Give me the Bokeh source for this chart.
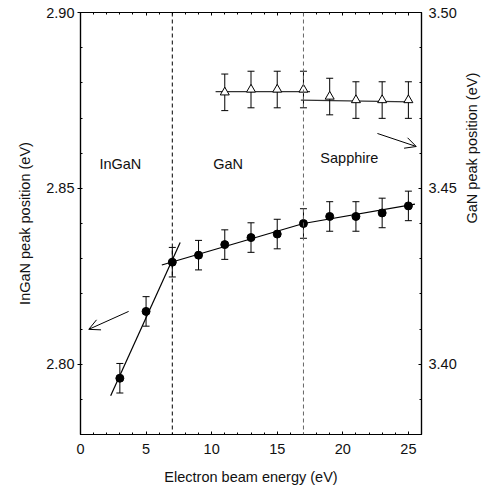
import math
from bokeh.plotting import figure
from bokeh.models import (Range1d, LinearAxis, FixedTicker, Span, Arrow, OpenHead,
                          NumeralTickFormatter, ColumnDataSource)
from bokeh.core.properties import value
from bokeh.embed import file_html
from bokeh.resources import INLINE

# ---- data ----
energy_ingan = [3, 5, 7, 9, 11, 13, 15, 17, 19, 21, 23, 25]
ingan_peak = [2.796, 2.815, 2.829, 2.831, 2.834, 2.836, 2.837, 2.840, 2.842, 2.842, 2.843, 2.845]
ingan_err = [0.0042, 0.0042, 0.0042, 0.0042, 0.0042, 0.0042, 0.0042, 0.0042, 0.0042, 0.0042, 0.0042, 0.0042]

energy_gan = [11, 13, 15, 17, 19, 21, 23, 25]
gan_peak = [3.4773, 3.4781, 3.4781, 3.4781, 3.4761, 3.4751, 3.4751, 3.4751]
gan_err = [0.0052, 0.0052, 0.0052, 0.0052, 0.0052, 0.0052, 0.0052, 0.0052]

# linear fits (segments)
fit1_x = [2.3, 7.6]
fit1_y = [2.791, 2.8346]
fit2_x = [6.2, 17.0]
fit2_y = [2.8282, 2.840]
fit3_x = [17.0, 25.5]
fit3_y = [2.840, 2.8455]
gan_fit1_x = [10.3, 17.5]
gan_fit1_y = [3.4775, 3.4775]
gan_fit2_x = [16.8, 25.2]
gan_fit2_y = [3.4751, 3.4746]

boundaries = [7, 17]
region_names = ["InGaN", "GaN", "Sapphire"]
region_x = [3.04, 11.25, 20.5]
region_y = [2.857, 2.857, 2.8585]

x_ticks = [0, 5, 10, 15, 20, 25]
x_minor = list(range(0, 27))
left_ticks = [2.80, 2.85, 2.90]
left_minor = [2.78, 2.79, 2.80, 2.81, 2.82, 2.83, 2.84, 2.85, 2.86, 2.87, 2.88, 2.89, 2.90]
right_ticks = [3.40, 3.45, 3.50]
right_minor = [3.38, 3.39, 3.40, 3.41, 3.42, 3.43, 3.44, 3.45, 3.46, 3.47, 3.48, 3.49, 3.50]

FONT = "Liberation Sans"
FS = "14.5px"
TXT = "#111111"

p = figure(width=490, height=488, output_backend="svg", toolbar_location=None,
           x_range=Range1d(0, 26), y_range=Range1d(2.78, 2.90),
           min_border_left=80, min_border_right=68, min_border_top=12, min_border_bottom=54,
           x_axis_location=None, y_axis_location=None)
p.extra_y_ranges = {"gan": Range1d(3.38, 3.50)}
p.xgrid.visible = False
p.ygrid.visible = False
p.outline_line_color = "black"
p.outline_line_width = 1.2
p.background_fill_color = "white"
p.border_fill_color = "white"


def style_axis(ax):
    ax.axis_line_color = "black"
    ax.axis_line_width = 1.2
    ax.major_tick_line_color = "black"
    ax.minor_tick_line_color = "black"
    ax.major_label_text_font = FONT
    ax.major_label_text_font_size = FS
    ax.major_label_text_color = TXT
    ax.axis_label_text_font = FONT
    ax.axis_label_text_font_size = FS
    ax.axis_label_text_font_style = "normal"
    ax.axis_label_text_color = TXT


xb = LinearAxis(ticker=FixedTicker(ticks=x_ticks, minor_ticks=x_minor),
                axis_label="Electron beam energy (eV)")
style_axis(xb)
xb.major_tick_in = 3
xb.major_tick_out = 0
xb.minor_tick_in = 2
xb.minor_tick_out = 0
xb.major_label_standoff = 9
xb.axis_label_standoff = 12
p.add_layout(xb, "below")

xt = LinearAxis(ticker=FixedTicker(ticks=x_ticks, minor_ticks=x_minor))
style_axis(xt)
xt.major_tick_in = 3
xt.major_tick_out = 0
xt.minor_tick_in = 2
xt.minor_tick_out = 0
xt.major_label_overrides = {t: "" for t in x_ticks}
xt.major_label_standoff = 0
p.add_layout(xt, "above")

yl = LinearAxis(ticker=FixedTicker(ticks=left_ticks, minor_ticks=left_minor),
                axis_label="InGaN peak position (eV)",
                formatter=NumeralTickFormatter(format="0.00"))
style_axis(yl)
yl.major_tick_in = 0
yl.major_tick_out = 3
yl.minor_tick_in = 2
yl.minor_tick_out = 0
yl.major_label_standoff = 3
yl.axis_label_standoff = 10
p.add_layout(yl, "left")

yr = LinearAxis(y_range_name="gan",
                ticker=FixedTicker(ticks=right_ticks, minor_ticks=right_minor),
                axis_label="GaN peak position (eV)",
                formatter=NumeralTickFormatter(format="0.00"))
style_axis(yr)
yr.major_tick_in = 3
yr.major_tick_out = 0
yr.minor_tick_in = 2
yr.minor_tick_out = 0
yr.major_label_standoff = 7
yr.axis_label_standoff = 12
yr.axis_label_orientation = math.pi / 2
p.add_layout(yr, "right")

# boundaries
p.add_layout(Span(location=boundaries[0], dimension="height", line_color="black",
                  line_dash="4 3", line_width=1))
p.add_layout(Span(location=boundaries[1], dimension="height", line_color="#666666",
                  line_dash="4 3", line_width=1))

# fits
for fx, fy in [(fit1_x, fit1_y), (fit2_x, fit2_y), (fit3_x, fit3_y)]:
    p.line(fx, fy, line_color="black", line_width=1.2)
for fx, fy in [(gan_fit1_x, gan_fit1_y), (gan_fit2_x, gan_fit2_y)]:
    p.line(fx, fy, line_color="#333333", line_width=1.2, y_range_name="gan")

# InGaN series
src_i = ColumnDataSource(dict(
    x=energy_ingan, y=ingan_peak,
    lo=[v - e for v, e in zip(ingan_peak, ingan_err)],
    hi=[v + e for v, e in zip(ingan_peak, ingan_err)]))
p.segment(x0="x", y0="lo", x1="x", y1="hi", source=src_i, line_color="black", line_width=1)
p.scatter(x="x", y="lo", source=src_i, marker="dash", size=7, line_color="black", line_width=1)
p.scatter(x="x", y="hi", source=src_i, marker="dash", size=7, line_color="black", line_width=1)
p.scatter(x="x", y="y", source=src_i, marker="circle", size=8, fill_color="black",
          line_color="black")

# GaN series
src_g = ColumnDataSource(dict(
    x=energy_gan, y=gan_peak,
    lo=[v - e for v, e in zip(gan_peak, gan_err)],
    hi=[v + e for v, e in zip(gan_peak, gan_err)]))
p.segment(x0="x", y0="lo", x1="x", y1="hi", source=src_g, line_color="black", line_width=1,
          y_range_name="gan")
p.scatter(x="x", y="lo", source=src_g, marker="dash", size=7, line_color="black", line_width=1,
          y_range_name="gan")
p.scatter(x="x", y="hi", source=src_g, marker="dash", size=7, line_color="black", line_width=1,
          y_range_name="gan")
p.scatter(x="x", y="y", source=src_g, marker="triangle", size=9, fill_color="white",
          line_color="black", line_width=1, y_range_name="gan")

# region labels
p.text(x=region_x, y=region_y, text=region_names, text_font=value(FONT),
       text_font_size=FS, text_color=TXT, text_align="center", text_baseline="middle")

# arrows
p.add_layout(Arrow(x_start=3.67, y_start=2.815, x_end=0.63, y_end=2.8099,
                   line_color="black", line_width=1,
                   end=OpenHead(size=11, line_color="black", line_width=1)))
p.add_layout(Arrow(x_start=22.64, y_start=3.4656, x_end=25.6, y_end=3.4619,
                   y_range_name="gan", line_color="black", line_width=1,
                   end=OpenHead(size=11, line_color="black", line_width=1)))

open("out.html", "w").write(file_html(p, INLINE))
